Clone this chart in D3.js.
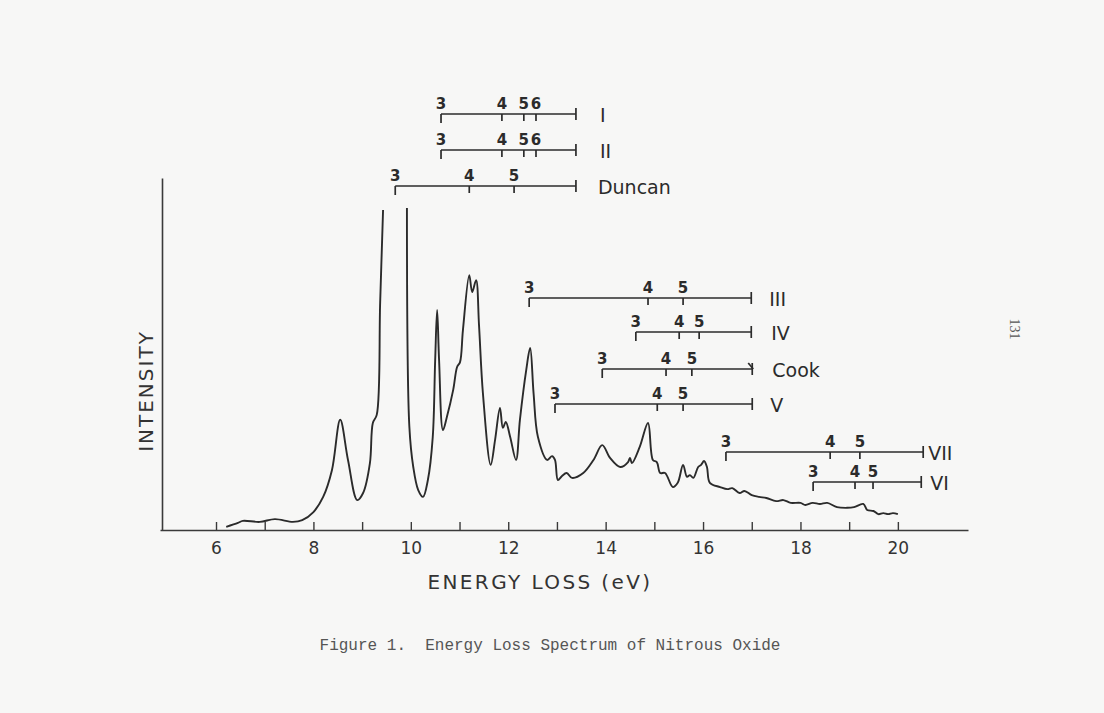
<!DOCTYPE html>
<html>
<head>
<meta charset="utf-8">
<script src="https://cdn.jsdelivr.net/npm/d3@7/dist/d3.min.js"></script>
<style>
  html, body { margin: 0; padding: 0; background: #f7f7f6; }
  svg { display: block; }
</style>
</head>
<body>
<svg id="chart" width="1104" height="713"></svg>
<script>
// ---------------- DATA ----------------
// Energy loss spectrum (eV, relative intensity). null = off scale.
const energy = [6.21,6.45,6.55,6.9,7.21,7.58,7.77,8.0,8.2,8.38,8.55,8.71,8.9,9.02,9.16,9.22,9.3,9.37,9.43,
  9.68,
  9.92,9.97,10.05,10.15,10.25,10.35,10.45,10.5,10.54,10.58,10.66,10.74,10.87,10.95,11.01,11.07,11.2,11.26,11.34,11.4,
  11.48,11.64,11.73,11.83,11.89,11.95,12.04,12.16,12.24,12.37,12.45,12.52,12.61,12.8,12.9,12.96,13.02,13.1,13.2,13.31,
  13.54,13.75,13.93,14.09,14.3,14.46,14.5,14.54,14.7,14.87,14.97,15.05,15.12,15.22,15.38,15.48,15.59,15.67,15.73,15.8,
  15.9,15.96,16.02,16.08,16.14,16.35,16.5,16.6,16.75,16.85,17.0,17.15,17.3,17.5,17.65,17.8,18.0,18.1,18.25,18.4,
  18.55,18.75,18.96,19.1,19.29,19.37,19.5,19.6,19.7,19.8,19.9,20.0];
const intensity = [0.9,2.0,2.6,2.3,3.1,2.3,2.8,5.1,9.4,17.0,31.3,19.9,8.5,10.5,19.0,30.4,32.7,64.5,90.9,
  null,
  91.5,29.3,17.9,11.4,9.4,14.2,26.4,48.3,62.5,48.3,28.4,32.1,39.8,46.3,47.7,56.8,72.4,67.6,71.0,58.2,
  38.9,18.5,25.6,34.7,29.0,30.7,26.4,19.9,31.3,45.5,51.7,38.9,26.4,19.9,21.0,19.9,14.2,15.3,16.2,14.8,
  16.2,19.9,24.1,20.5,17.9,19.3,20.5,19.0,23.6,30.4,19.9,19.3,16.2,16.2,12.2,13.4,18.5,15.1,15.6,14.8,
  17.9,18.5,19.6,17.9,13.4,12.2,11.6,11.9,10.5,11.1,9.9,9.4,9.1,8.2,8.5,7.7,7.7,7.1,7.7,7.4,
  7.7,6.5,6.3,6.5,7.4,5.7,5.4,4.5,4.8,4.5,4.8,4.5];

// Rydberg series markers (eV): n = 3, 4, 5, 6 and series limit
const seriesNames = ["I","II","Duncan","III","IV","Cook","V","VII","VI"];
const seriesN3    = [10.62,10.62,9.68,12.43,14.62,13.93,12.96,16.47,18.26];
const seriesN4    = [11.87,11.87,11.20,14.87,15.51,15.24,15.06,18.61,19.12];
const seriesN5    = [12.32,12.32,12.12,15.59,15.92,15.77,15.59,19.22,19.49];
const seriesN6    = [12.57,12.57,null,null,null,null,null,null,null];
const seriesLimit = [13.39,13.39,13.39,16.99,16.99,17.01,17.01,20.52,20.48];
const seriesArrow = [false,false,false,false,false,true,false,false,false];

const xTicks = [6,7,8,9,10,11,12,13,14,15,16,17,18,19,20];
const xTickLabels = ["6","","8","","10","","12","","14","","16","","18","","20"];

const xTitle = "ENERGY LOSS (eV)";
const yTitle = "INTENSITY";
const caption = "Figure 1.  Energy Loss Spectrum of Nitrous Oxide";
const pageNumber = "131";

// ---------------- LAYOUT ----------------
const rowY = [114,150,186,298,332,369,404,452,482];
const rowLabelGap = [24,24,22,18,20,20,18,5,9];
const ink = "#2b2b2b";
const font = "'DejaVu Sans', sans-serif";

const svg = d3.select("#chart");
svg.append("rect").attr("width",1104).attr("height",713).attr("fill","#f7f7f6");

const x = d3.scaleLinear().domain([4.85, 21.44]).range([160, 968]);
const y = d3.scaleLinear().domain([0, 100]).range([530, 178]);

// X axis
const xAxis = d3.axisBottom(x)
  .tickValues(xTicks)
  .tickFormat((d,i) => xTickLabels[i])
  .tickSizeInner(-8).tickSizeOuter(0).tickPadding(12);
const gx = svg.append("g").attr("transform","translate(0,530)").call(xAxis);
gx.select(".domain").attr("stroke", "#3a3a3a").attr("stroke-width", 1.6);
gx.selectAll(".tick line").attr("stroke", "#3a3a3a").attr("stroke-width", 1.4);
gx.selectAll(".tick text").attr("fill", "#333").style("font-family", font).style("font-size","17px");

// Y axis (line only)
const yAxis = d3.axisLeft(y).tickValues([]).tickSizeOuter(0);
const gy = svg.append("g").attr("transform","translate(162,0)").call(yAxis);
gy.select(".domain").attr("stroke", "#3a3a3a").attr("stroke-width", 1.6);

// Titles
svg.append("text").attr("x", 540).attr("y", 589)
  .attr("text-anchor","middle").attr("fill","#333")
  .style("font-family", font).style("font-size","20px").style("letter-spacing","2.4px")
  .text(xTitle);
svg.append("text").attr("transform","translate(153,391) rotate(-90)")
  .attr("text-anchor","middle").attr("fill","#333")
  .style("font-family", font).style("font-size","20px").style("letter-spacing","2px")
  .text(yTitle);

// Spectrum
const pts = energy.map((e,i) => ({e, v: intensity[i]}));
const line = d3.line()
  .defined(d => d.v !== null)
  .x(d => x(d.e)).y(d => y(d.v))
  .curve(d3.curveCatmullRom.alpha(0.5));
svg.append("path").datum(pts)
  .attr("d", line).attr("fill","none")
  .attr("stroke", ink).attr("stroke-width", 1.9).attr("stroke-linejoin","round");

// Series markers
seriesNames.forEach((name, i) => {
  const g = svg.append("g");
  const yy = rowY[i];
  const x3 = x(seriesN3[i]), xl = x(seriesLimit[i]);
  const st = {stroke: ink, "stroke-width": 1.7};
  const ln = (x1,y1,x2,y2) => g.append("line").attr("x1",x1).attr("y1",y1).attr("x2",x2).attr("y2",y2)
      .attr("stroke", ink).attr("stroke-width", 1.7);
  ln(x3, yy, xl, yy);
  ln(x3, yy, x3, yy + 9);
  ln(xl, yy - 6, xl, yy + 6);
  if (seriesArrow[i]) { ln(xl - 4, yy - 6, xl + 1, yy); }
  const marks = [[seriesN3[i],"3"],[seriesN4[i],"4"],[seriesN5[i],"5"],[seriesN6[i],"6"]];
  marks.forEach(([v, lab], k) => {
    if (v === null) return;
    const xv = x(v);
    if (k > 0) ln(xv, yy, xv, yy + 7);
    g.append("text").attr("x", xv).attr("y", yy - 5)
      .attr("text-anchor","middle").attr("fill", ink)
      .style("font-family", font).style("font-size","15px").style("font-weight","bold")
      .text(lab);
  });
  g.append("text").attr("x", xl + rowLabelGap[i]).attr("y", yy + 8)
    .attr("fill", ink).style("font-family", font).style("font-size","19px")
    .text(name);
});

// Caption
svg.append("text").attr("x", 550).attr("y", 650).attr("text-anchor","middle")
  .attr("fill","#555").attr("xml:space","preserve")
  .style("font-family","'Liberation Mono', monospace").style("font-size","16px")
  .style("white-space","pre")
  .text(caption);

// Page number
svg.append("text").attr("transform","translate(1010,329) rotate(90)")
  .attr("text-anchor","middle").attr("fill","#555")
  .style("font-family","'Liberation Serif', serif").style("font-size","14px")
  .text(pageNumber);
</script>
</body>
</html>
